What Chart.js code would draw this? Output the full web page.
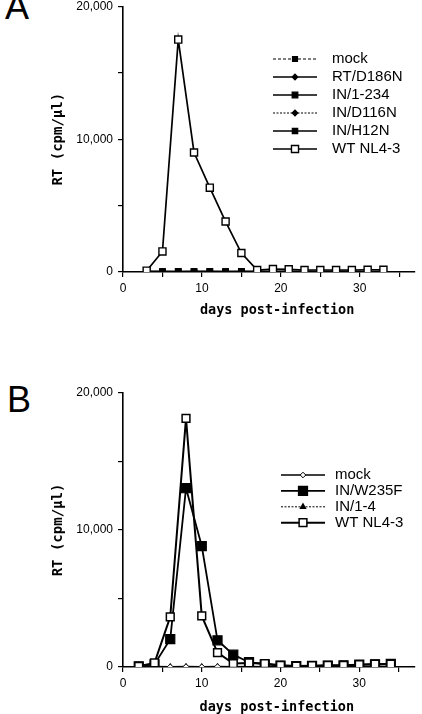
<!DOCTYPE html>
<html>
<head>
<meta charset="utf-8">
<script src="https://cdn.jsdelivr.net/npm/chart.js@4/dist/chart.umd.min.js"></script>
<style>
  html, body { margin: 0; padding: 0; background: #fff; }
  body { width: 422px; height: 714px; position: relative; overflow: hidden; }
  .panel { position: absolute; left: 0; width: 422px; }
  .letter { position: absolute; font: 36px/36px "Liberation Sans", Arial, sans-serif; color: #000; }
</style>
</head>
<body>
<div class="letter" style="left:5px; top:-11px;">A</div>
<div class="letter" style="left:7px; top:382px;">B</div>
<div class="panel" style="top:0; height:330px;"><canvas id="chartA"></canvas></div>
<div class="panel" style="top:354px; height:360px;"><canvas id="chartB"></canvas></div>
<script>

// --- Панель A ---
const daysA = [3, 5, 7, 9, 11, 13, 15, 17, 19, 21, 23, 25, 27, 29, 31, 33];
const mockA   = [20, 20, 30, 20, 20, 30, 20, 20, 30, 20, 20, 30, 20, 20, 30, 20];
const d186nA  = [30, 30, 20, 30, 30, 20, 30, 30, 20, 30, 30, 20, 30, 30, 20, 30];
const in1234A = [40, 30, 40, 30, 40, 30, 40, 30, 40, 30, 40, 30, 40, 30, 40, 30];
const d116nA  = [20, 10, 20, 10, 20, 10, 20, 10, 20, 10, 20, 10, 20, 10, 20, 10];
const h12nA   = [30, 40, 30, 40, 30, 40, 30, 40, 30, 40, 30, 40, 30, 40, 30, 40];
const wtA     = [100, 1550, 17500, 9000, 6350, 3800, 1430, 150, 220, 200, 150, 150, 150, 150, 170, 170];

// --- Панель B ---
const daysB = [2, 4, 6, 8, 10, 12, 14, 16, 18, 20, 22, 24, 26, 28, 30, 32, 34];
const mockB  = [20, 30, 20, 30, 20, 30, 20, 30, 20, 30, 20, 30, 20, 30, 20, 30, 20];
const w235fB = [50, 200, 2030, 13050, 8830, 1950, 900, 350, 200, 100, 60, 80, 100, 120, 170, 200, 220];
const in14B  = [0, 10, 0, 10, 0, 10, 0, 10, 0, 10, 0, 10, 0, 10, 0, 10, 0];
const wtB    = [50, 300, 3660, 18150, 3730, 1050, 250, 300, 250, 120, 70, 100, 120, 120, 170, 200, 200];

// Подписи осей
const xTickLabels = [0, 10, 20, 30];
const yTickLabels = [0, 10000, 20000];
const xTitle = '  days post-infection';
const yTitle = 'RT (cpm/μl)';

const TICK_FONT = { family: '"Liberation Sans", Arial, sans-serif', size: 12 };
const TITLE_FONT = { family: '"DejaVu Sans Mono", monospace', weight: 'bold', lineHeight: 1 };

function points(days, values) {
  return days.map((d, i) => ({ x: d, y: values[i] }));
}

function series(label, days, values, style) {
  return Object.assign({
    label,
    data: points(days, values),
    borderColor: '#000',
    backgroundColor: '#000',
    pointBorderColor: '#000',
    pointBackgroundColor: '#000',
    borderWidth: 1.6,
    pointBorderWidth: 1.2,
    pointStyle: 'rect',
    pointRadius: 3.5,
    order: 1,
  }, style);
}

// Легенда справа внутри поля: отрезок линии + маркер + подпись.
const inlineLegend = {
  id: 'inlineLegend',
  afterDraw(chart, args, opts) {
    const { ctx } = chart;
    const { x, y, gap, lineLen, textX } = opts;
    ctx.save();
    chart.data.datasets.forEach((ds, i) => {
      const ly = y + i * gap;
      ctx.strokeStyle = '#000';
      ctx.lineWidth = ds.borderWidth;
      ctx.setLineDash(ds.borderDash || []);
      ctx.beginPath();
      ctx.moveTo(x, ly);
      ctx.lineTo(x + lineLen, ly);
      ctx.stroke();
      ctx.setLineDash([]);
      ctx.fillStyle = ds.pointBackgroundColor;
      ctx.lineWidth = ds.pointBorderWidth;
      Chart.helpers.drawPoint(ctx, {
        pointStyle: ds.pointStyle, radius: ds.pointRadius, rotation: 0, borderWidth: ds.pointBorderWidth,
      }, x + lineLen / 2, ly);
      ctx.fillStyle = '#000';
      ctx.font = '15px "Liberation Sans", Arial, sans-serif';
      ctx.textBaseline = 'middle';
      ctx.textAlign = 'left';
      ctx.fillText(ds.label, textX, ly);
    });
    ctx.restore();
  },
};

function buildOptions({ padTop, xHeight, xTitlePad, legend }) {
  const axisGrid = {
    display: true, drawOnChartArea: false, drawTicks: true,
    tickLength: 5, color: '#000', lineWidth: 1.2,
  };
  return {
    responsive: true,
    maintainAspectRatio: false,
    animation: false,
    layout: { padding: { top: padTop, right: 7, bottom: 0, left: 0 } },
    plugins: {
      legend: { display: false },
      tooltip: { enabled: false },
      inlineLegend: legend,
    },
    scales: {
      x: {
        type: 'linear', min: 0, max: 37,
        grid: axisGrid,
        border: { display: true, color: '#000', width: 1.6 },
        ticks: {
          stepSize: 5, includeBounds: false, maxRotation: 0, autoSkip: false,
          color: '#000', font: TICK_FONT, padding: 4,
          callback: (v) => (xTickLabels.includes(v) ? String(v) : ''),
        },
        title: { display: true, text: xTitle, color: '#000', font: Object.assign({ size: 13.5 }, TITLE_FONT), padding: { top: 4, bottom: xTitlePad } },
        afterFit(s) { s.height = xHeight; s.paddingLeft = 0; s.paddingRight = 0; },
      },
      y: {
        min: 0, max: 20000,
        grid: axisGrid,
        border: { display: true, color: '#000', width: 1.6 },
        ticks: {
          stepSize: 5000, color: '#000', font: TICK_FONT, padding: 5,
          callback: (v) => (yTickLabels.includes(v) ? v.toLocaleString('en-US') : ''),
        },
        title: { display: true, text: yTitle, color: '#000', font: Object.assign({ size: 14 }, TITLE_FONT), padding: { top: 51, bottom: 0 } },
        afterFit(s) { s.width = 123; s.paddingTop = 0; s.paddingBottom = 0; },
      },
    },
  };
}

new Chart(document.getElementById('chartA'), {
  type: 'line',
  data: {
    datasets: [
      series('mock', daysA, mockA, { borderWidth: 1, borderDash: [3, 2], pointRadius: 3.5 }),
      series('RT/D186N', daysA, d186nA, { pointStyle: 'rectRot', pointRadius: 2.8 }),
      series('IN/1-234', daysA, in1234A, { pointRadius: 4 }),
      series('IN/D116N', daysA, d116nA, { borderWidth: 1, borderDash: [2, 1.5], pointStyle: 'rectRot', pointRadius: 2.8 }),
      series('IN/H12N', daysA, h12nA, { pointRadius: 3.8 }),
      series('WT NL4-3', daysA, wtA, {
        pointRadius: 5, pointBackgroundColor: '#fff', pointBorderWidth: 1.4, borderWidth: 1.7, order: 0,
      }),
    ],
  },
  options: buildOptions({
    padTop: 2, xHeight: 58, xTitlePad: 13,
    legend: { x: 273, y: 59, gap: 18, lineLen: 44, textX: 332 },
  }),
  plugins: [inlineLegend],
});

new Chart(document.getElementById('chartB'), {
  type: 'line',
  data: {
    datasets: [
      series('mock', daysB, mockB, {
        pointStyle: 'rectRot', pointRadius: 2.8, pointBackgroundColor: '#fff', pointBorderWidth: 1,
      }),
      series('IN/W235F', daysB, w235fB, { pointRadius: 6.4, borderWidth: 1.8 }),
      series('IN/1-4', daysB, in14B, { borderWidth: 1, borderDash: [2, 1.5], pointStyle: 'triangle', pointRadius: 3 }),
      series('WT NL4-3', daysB, wtB, {
        pointRadius: 5.5, pointBackgroundColor: '#fff', pointBorderWidth: 1.5, borderWidth: 2, order: 0,
      }),
    ],
  },
  options: buildOptions({
    padTop: 39, xHeight: 47, xTitlePad: 0,
    legend: { x: 281, y: 121, gap: 15.9, lineLen: 44, textX: 335 },
  }),
  plugins: [inlineLegend],
});
</script>
</body>
</html>
